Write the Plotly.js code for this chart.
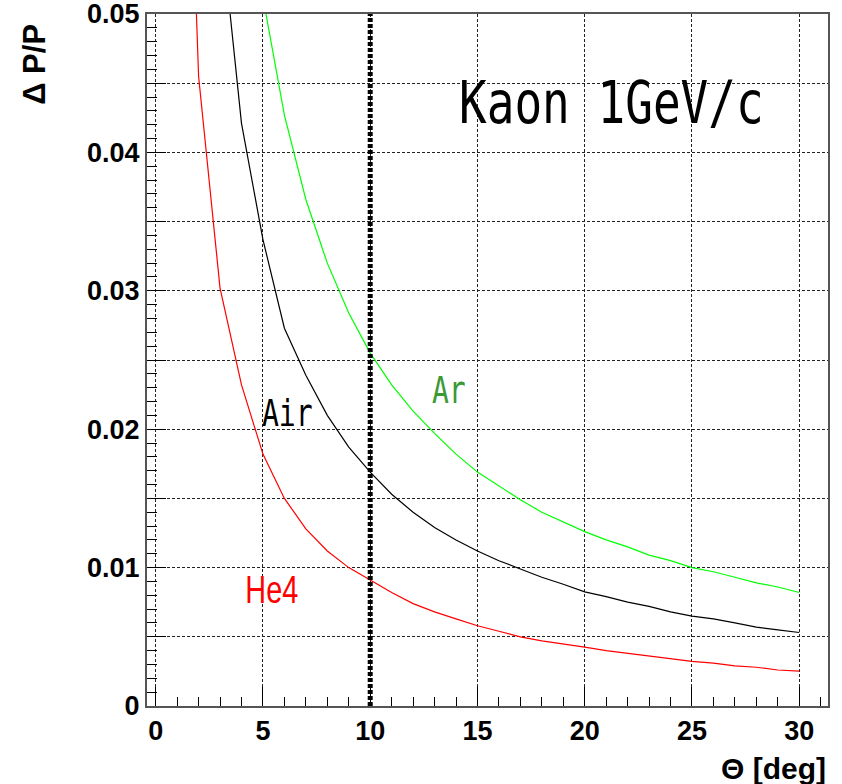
<!DOCTYPE html>
<html>
<head>
<meta charset="utf-8">
<script src="https://cdn.plot.ly/plotly-3.0.1.min.js"></script>
<style>html,body{margin:0;padding:0;background:#fff;}</style>
</head>
<body>
<div id="chart" style="width:842px;height:784px;"></div>
<script>
// Scattering angle samples (deg) and momentum resolution dP/P
const heTheta  = [1, 2, 3, 4, 5, 6, 7, 8, 9, 10, 11, 12, 13, 14, 15, 16, 17, 18, 19, 20, 21, 22, 23, 24, 25, 26, 27, 28, 29, 30];
const heDpp    = [0.090, 0.0455, 0.0302, 0.0232, 0.0182, 0.0150, 0.0128, 0.0112, 0.0100, 0.0091, 0.0082, 0.0074, 0.0068, 0.0063, 0.0058, 0.0054, 0.0050, 0.0047, 0.0045, 0.00425, 0.0040, 0.0038, 0.0036, 0.0034, 0.00322, 0.0031, 0.0029, 0.0028, 0.0026, 0.00252];

const airTheta = [3, 4, 5, 6, 7, 8, 9, 10, 11, 12, 13, 14, 15, 16, 17, 18, 19, 20, 21, 22, 23, 24, 25, 26, 27, 28, 29, 30];
const airDpp   = [0.057, 0.0421, 0.0337, 0.0273, 0.0239, 0.0210, 0.0187, 0.0169, 0.0153, 0.0140, 0.0129, 0.0120, 0.0112, 0.0105, 0.0099, 0.0093, 0.0088, 0.00825, 0.0079, 0.0075, 0.0072, 0.0068, 0.0065, 0.0063, 0.0060, 0.0057, 0.0055, 0.00531];

const arTheta  = [5, 6, 7, 8, 9, 10, 11, 12, 13, 14, 15, 16, 17, 18, 19, 20, 21, 22, 23, 24, 25, 26, 27, 28, 29, 30];
const arDpp    = [0.0512, 0.0427, 0.0366, 0.0320, 0.0284, 0.0255, 0.0232, 0.0213, 0.0197, 0.0182, 0.0169, 0.0159, 0.0149, 0.0140, 0.0133, 0.0126, 0.0120, 0.0115, 0.0109, 0.0105, 0.0100, 0.0097, 0.0093, 0.0089, 0.0086, 0.0082];

// Vertical marker at theta = 10 deg
const cutTheta = [10, 10];
const cutDpp   = [0, 0.05];

// Axis ticks
const xTickVals = [0, 5, 10, 15, 20, 25, 30];
const yTickVals = [0, 0.005, 0.01, 0.015, 0.02, 0.025, 0.03, 0.035, 0.04, 0.045, 0.05];
const yTickText = ['0', '', '0.01', '', '0.02', '', '0.03', '', '0.04', '', '0.05'];

const boldFont = {family: 'Liberation Sans, Arial, Helvetica, sans-serif', size: 27, color: '#000', weight: 'bold'};
const monoFam = 'DejaVu Sans Mono, monospace';
const sansFam = 'Liberation Sans, Arial, sans-serif';

const traces = [
  {x: heTheta, y: heDpp, type: 'scatter', mode: 'lines', line: {color: '#ff0000', width: 1.2}, hoverinfo: 'skip'},
  {x: airTheta, y: airDpp, type: 'scatter', mode: 'lines', line: {color: '#000000', width: 1.2}, hoverinfo: 'skip'},
  {x: arTheta, y: arDpp, type: 'scatter', mode: 'lines', line: {color: '#00ff00', width: 1.2}, hoverinfo: 'skip'},
  {x: cutTheta, y: cutDpp, type: 'scatter', mode: 'lines', line: {color: '#000000', width: 5, dash: '4px,2px'}, hoverinfo: 'skip'}
];

const layout = {
  width: 842, height: 784,
  margin: {l: 147, r: 14, t: 14, b: 78},
  paper_bgcolor: '#fff', plot_bgcolor: '#fff',
  showlegend: false,
  xaxis: {
    range: [-0.405, 31.34],
    tickmode: 'array', tickvals: xTickVals,
    ticks: 'inside', ticklen: 19, tickwidth: 1, tickcolor: '#000',
    showgrid: true, gridcolor: '#222', griddash: '3px,2px', gridwidth: 1,
    showline: true, mirror: true, linecolor: '#555', linewidth: 2,
    zeroline: false, ticklabeloverflow: 'allow',
    minor: {dtick: 1, tick0: 0, ticks: 'inside', ticklen: 9, tickwidth: 1, tickcolor: '#000', showgrid: false},
    tickfont: boldFont
  },
  yaxis: {
    range: [0, 0.050002],
    tickmode: 'array', tickvals: yTickVals, ticktext: yTickText,
    ticks: 'inside', ticklen: 19, tickwidth: 1, tickcolor: '#000',
    showgrid: true, gridcolor: '#222', griddash: '3px,2px', gridwidth: 1,
    showline: true, mirror: true, linecolor: '#555', linewidth: 2,
    zeroline: false, ticklabeloverflow: 'allow',
    minor: {dtick: 0.001, tick0: 0, ticks: 'inside', ticklen: 10, tickwidth: 1, tickcolor: '#000', showgrid: false},
    tickfont: boldFont
  },
  annotations: [
    {text: 'Kaon 1GeV/c', xref: 'x', yref: 'y', x: 21.27, y: 0.0436, showarrow: false,
     xanchor: 'center', yanchor: 'middle', font: {family: monoFam, size: 59, color: '#000'}},
    {text: 'Air', xref: 'x', yref: 'y', x: 6.13, y: 0.0212, showarrow: false,
     xanchor: 'center', yanchor: 'middle', font: {family: monoFam, size: 38, color: '#000'}},
    {text: 'Ar', xref: 'x', yref: 'y', x: 13.66, y: 0.0228, showarrow: false,
     xanchor: 'center', yanchor: 'middle', font: {family: monoFam, size: 38, color: '#3c9a35'}},
    {text: 'He4', xref: 'x', yref: 'y', x: 5.42, y: 0.0084, showarrow: false,
     xanchor: 'center', yanchor: 'middle', font: {family: sansFam, size: 39, color: '#ff0000'}},
    {text: 'Δ P/P', xref: 'paper', yref: 'paper', x: -0.1645, y: 0.928, textangle: -90, showarrow: false,
     xanchor: 'center', yanchor: 'middle', font: {family: sansFam, size: 31, color: '#000', weight: 'bold'}},
    {text: 'Θ [deg]', xref: 'paper', yref: 'paper', x: 1.0, y: -0.0896, showarrow: false,
     xanchor: 'right', yanchor: 'middle', font: {family: sansFam, size: 30, color: '#000', weight: 'bold'}}
  ]
};

// horizontal condensing of the in-plot labels (the original uses narrow fonts)
const squeeze = [0.78, 0.74, 0.74, 0.74];

Plotly.newPlot('chart', traces, layout, {staticPlot: true, displayModeBar: false}).then(function () {
  const anns = document.querySelectorAll('#chart .annotation');
  squeeze.forEach(function (sx, i) {
    const el = anns[i] && anns[i].querySelector('.annotation-text');
    if (!el) return;
    const bb = el.getBBox();
    const cx = bb.x + bb.width / 2;
    el.setAttribute('transform', 'matrix(' + sx + ',0,0,1,' + (cx * (1 - sx)) + ',0)');
  });
});
</script>
</body>
</html>
